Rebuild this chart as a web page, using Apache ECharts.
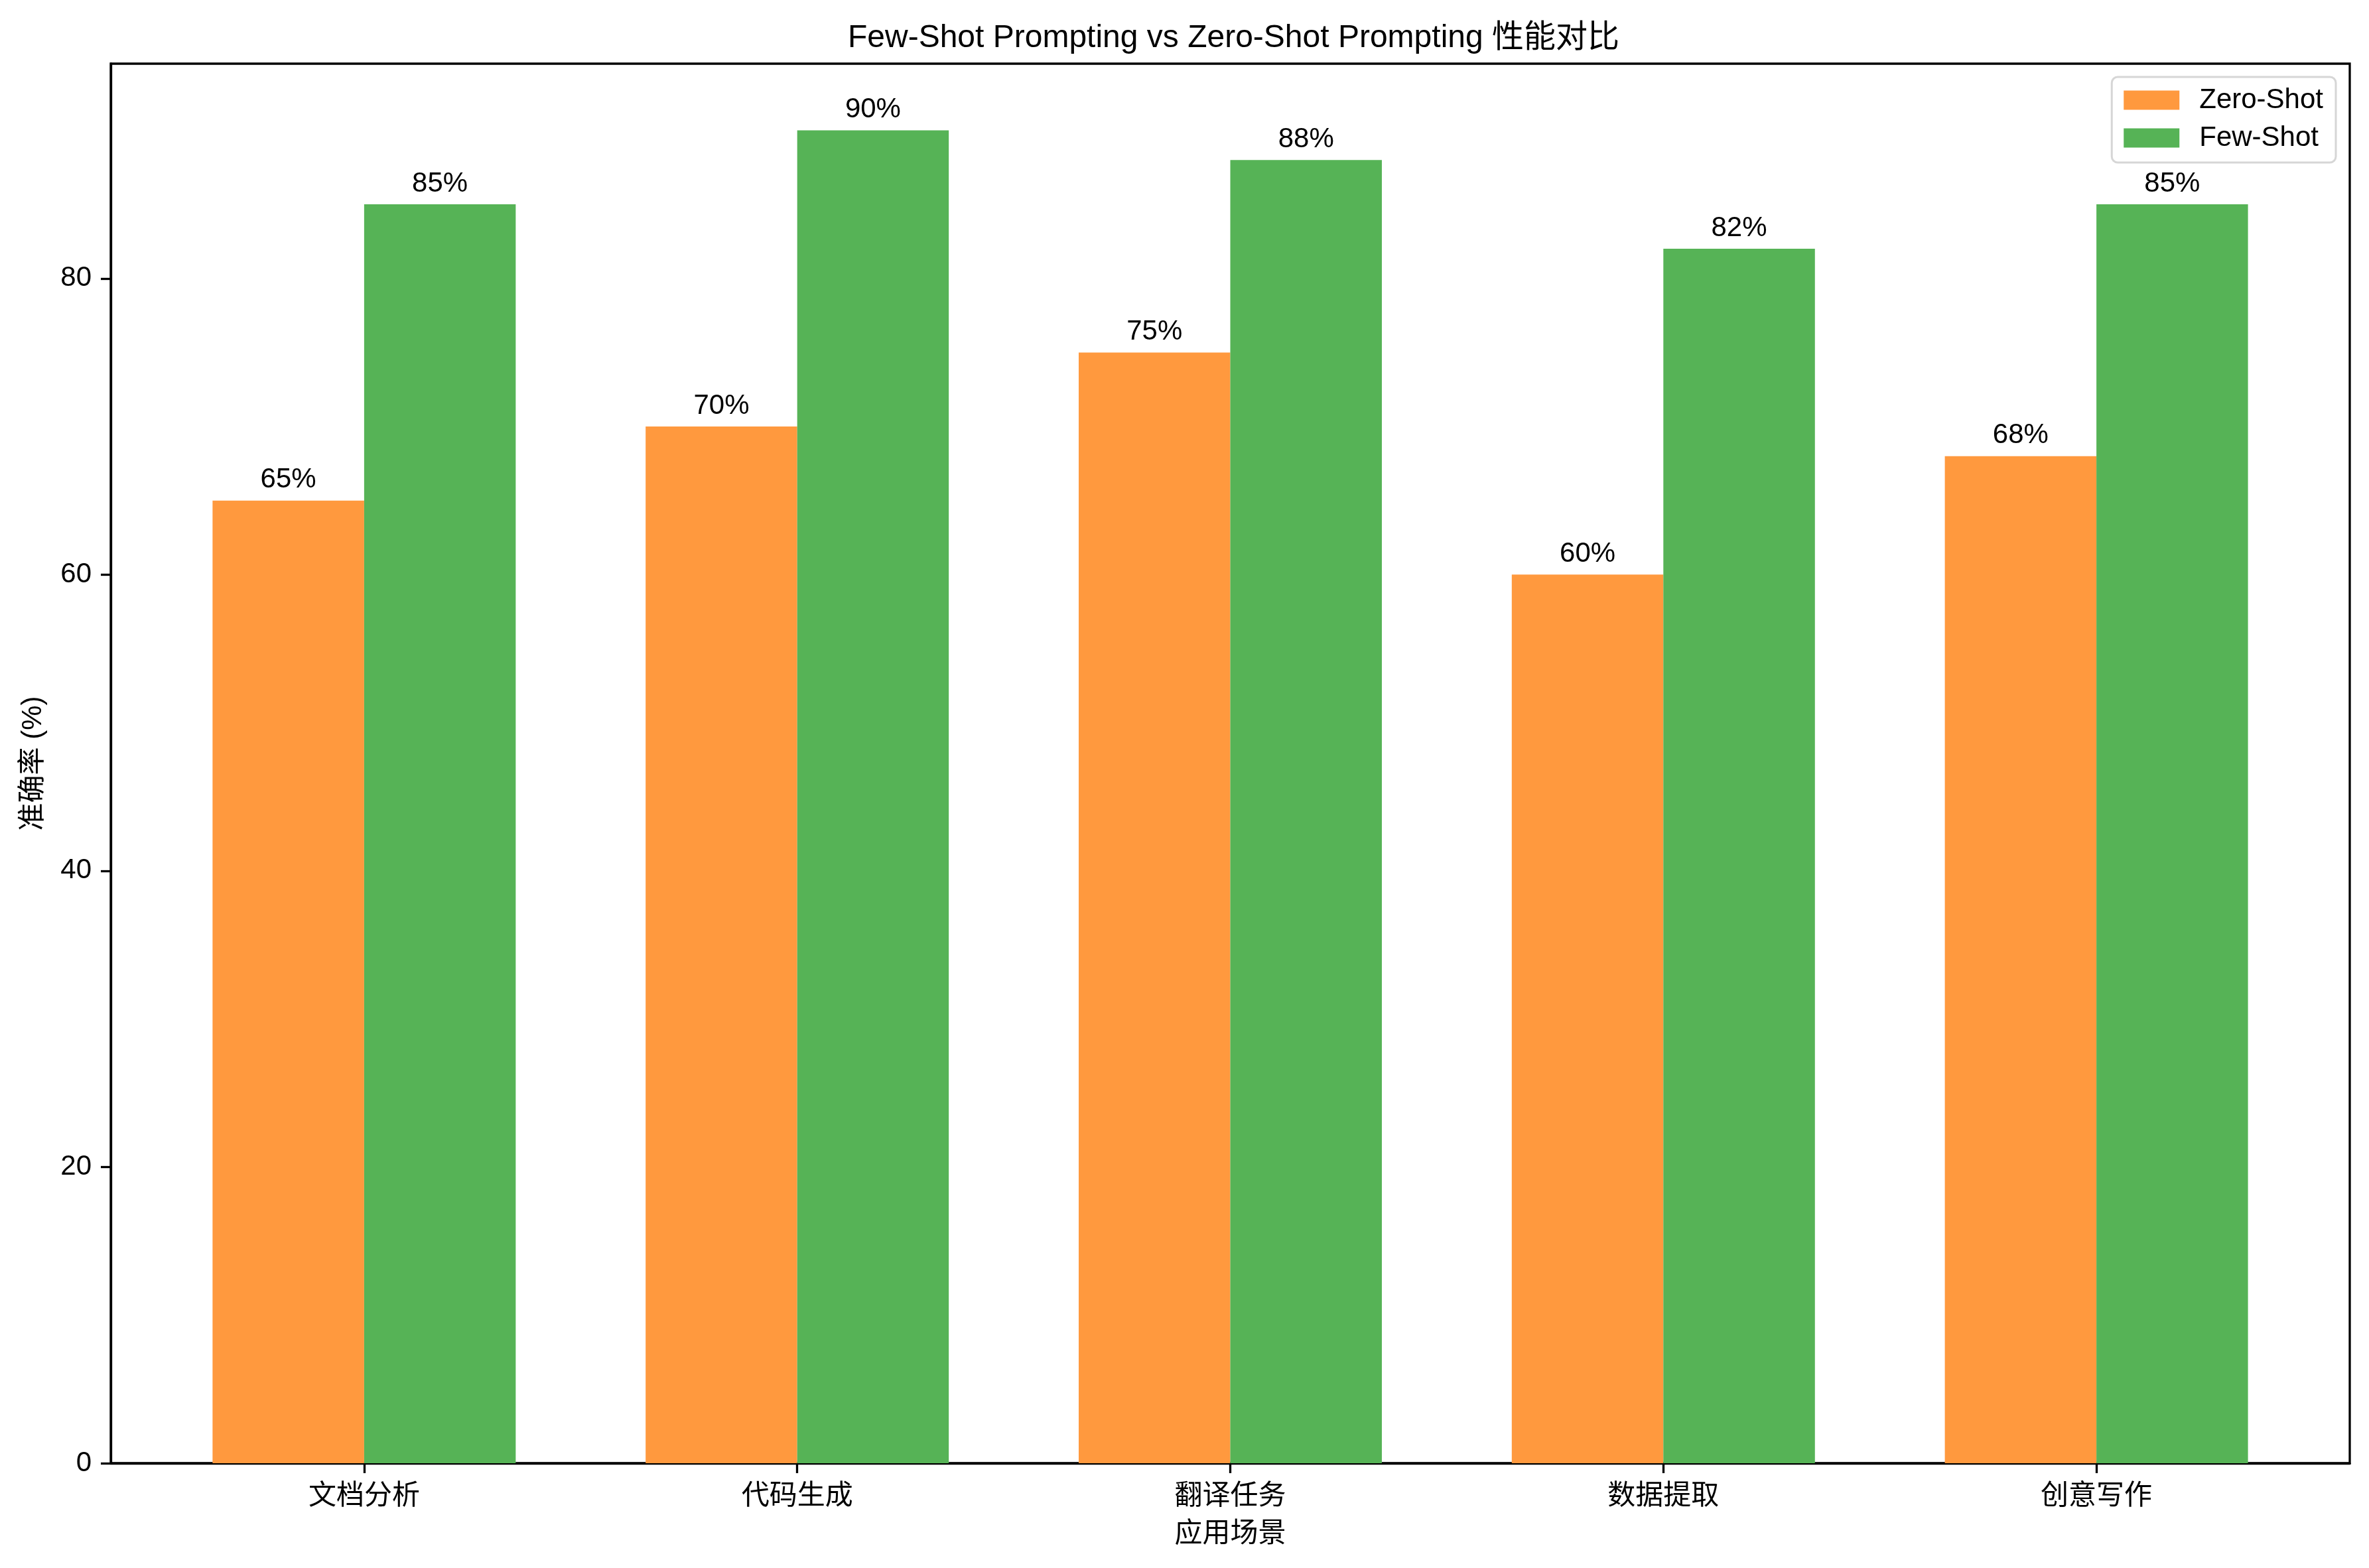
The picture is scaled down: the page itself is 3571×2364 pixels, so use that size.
<!DOCTYPE html>
<html>
<head>
<meta charset="utf-8">
<script src="https://cdn.jsdelivr.net/npm/echarts@6/dist/echarts.min.js"></script>
<style>
html,body{margin:0;padding:0;background:#fff;}
#chart{width:3571px;height:2364px;}
</style>
</head>
<body>
<div id="chart"></div>
<script>
const categories = ['文档分析', '代码生成', '翻译任务', '数据提取', '创意写作'];
const zeroShot = [65, 70, 75, 60, 68];
const fewShot = [85, 90, 88, 82, 85];
const seriesNames = ['Zero-Shot', 'Few-Shot'];
const yTicks = [0, 20, 40, 60, 80];
const titleText = 'Few-Shot Prompting vs Zero-Shot Prompting 性能对比';
const xName = '应用场景';
const yName = '准确率 (%)';

const FONT = '"Liberation Sans", "Noto Sans CJK SC", sans-serif';
const W = 3571, H = 2364;
const gridL = 167, gridR = 29, gridT = 96, gridB = 158;
const xMin = -0.585, xMax = 4.585;
const relW = 0.35;
const plotW = W - gridL - gridR;
const barPx = relW * plotW / (xMax - xMin);
const xIdx = categories.map((c, i) => i);

const chart = echarts.init(document.getElementById('chart'), null, {renderer: 'canvas'});
const lbl = {
  show: true, position: 'top', distance: 10,
  fontSize: 42, color: '#000', fontFamily: FONT,
  formatter: p => p.value[1] + '%'
};
chart.setOption({
  animation: false,
  backgroundColor: '#fff',
  textStyle: {fontFamily: FONT},
  title: {
    text: titleText, left: gridL + plotW / 2, textAlign: 'center', top: 29,
    textStyle: {fontSize: 48, fontWeight: 'normal', color: '#000', fontFamily: FONT}
  },
  legend: {
    orient: 'vertical', right: 50, top: 116,
    itemWidth: 84, itemHeight: 29, itemGap: 15,
    padding: [14, 19, 16, 18],
    borderColor: '#d6d6d6', borderWidth: 3, borderRadius: 9,
    backgroundColor: 'rgba(255,255,255,0.8)',
    icon: 'rect',
    textStyle: {fontSize: 42, color: '#000', fontFamily: FONT, padding: [0, 0, 0, 25]},
    data: seriesNames
  },
  grid: {
    left: gridL, right: gridR, top: gridT, bottom: gridB,
    show: true, borderColor: '#000', borderWidth: 3.3, backgroundColor: 'transparent'
  },
  xAxis: {
    type: 'value', min: xMin, max: xMax,
    name: xName, nameLocation: 'middle', nameGap: 86,
    nameTextStyle: {fontSize: 42, color: '#000', fontFamily: FONT},
    axisLine: {show: true, onZero: false, lineStyle: {color: '#000', width: 3.3}},
    axisTick: {show: true, length: 15, lineStyle: {color: '#000', width: 3.3}, customValues: xIdx},
    axisLabel: {show: true, margin: 29, fontSize: 42, color: '#000', fontFamily: FONT,
      customValues: xIdx, formatter: v => categories[Math.round(v)]},
    splitLine: {show: false}
  },
  yAxis: {
    type: 'value', min: 0, max: 94.5,
    name: yName, nameLocation: 'middle', nameGap: 96,
    nameTextStyle: {fontSize: 42, color: '#000', fontFamily: FONT},
    axisLine: {show: true, onZero: false, lineStyle: {color: '#000', width: 3.3}},
    axisTick: {show: true, length: 15, lineStyle: {color: '#000', width: 3.3}, customValues: yTicks},
    axisLabel: {show: true, margin: 29, fontSize: 42, color: '#000', fontFamily: FONT, customValues: yTicks},
    splitLine: {show: false}
  },
  series: [
    {
      name: seriesNames[0], type: 'bar', barWidth: barPx, barGap: '-100%',
      itemStyle: {color: '#ff993e'},
      label: lbl,
      data: zeroShot.map((v, i) => [i - relW / 2, v])
    },
    {
      name: seriesNames[1], type: 'bar', barWidth: barPx, barGap: '-100%',
      itemStyle: {color: '#56b356'},
      label: lbl,
      data: fewShot.map((v, i) => [i + relW / 2, v])
    }
  ]
});
</script>
</body>
</html>
